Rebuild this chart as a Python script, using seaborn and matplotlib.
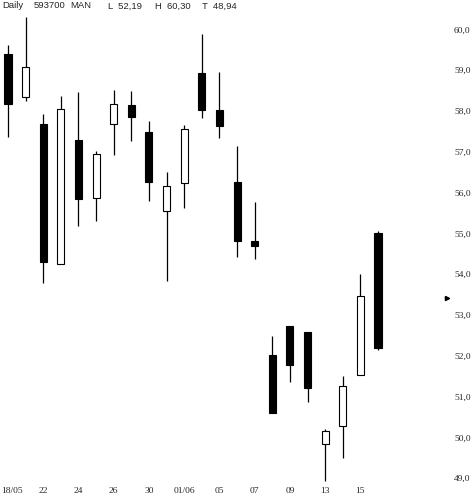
# Daily candlestick chart for MAN (593700), May/June 2000.

import seaborn as sns
import pandas as pd
import matplotlib.pyplot as plt
from matplotlib.transforms import ScaledTranslation

sns.set_theme(style="white")
plt.rcParams['font.family'] = ['Liberation Serif', 'DejaVu Sans']

# Trading days, one candle each.
dates = ["18/05", "19", "22", "23", "24", "25", "26", "29", "30", "31", "01/06",
         "02", "05", "06", "07", "08", "09", "12", "13", "14", "15", "16"]

opens = [59.39, 58.35, 57.68, 54.24, 57.29, 55.87, 57.67, 58.14, 57.48, 55.56, 56.23,
         58.93, 58.02, 56.26, 54.82, 52.02, 52.73, 52.58, 49.83, 50.27, 51.54, 55.02]
highs = [59.62, 60.30, 57.92, 58.37, 58.46, 57.02, 58.51, 58.49, 57.75, 56.50, 57.65,
         59.88, 58.95, 57.14, 55.77, 52.48, 52.73, 52.58, 50.20, 51.51, 54.00, 55.05]
lows = [57.36, 58.25, 53.79, 54.24, 55.19, 55.31, 56.91, 57.27, 55.80, 53.84, 55.63,
        57.83, 57.34, 54.43, 54.38, 50.59, 51.36, 50.87, 48.94, 49.50, 51.54, 52.15]
closes = [58.18, 59.07, 54.30, 58.06, 55.85, 56.94, 58.16, 57.86, 56.26, 56.15, 57.55,
          58.03, 57.64, 54.82, 54.70, 50.59, 51.78, 51.22, 50.15, 51.27, 53.46, 52.19]

price_ticks = [49, 50, 51, 52, 53, 54, 55, 56, 57, 58, 59, 60]

# Little arrow on the right edge.
marker_price = 53.42

header = ["Daily", "593700", "MAN", "L  52,19", "H  60,30", "T  48,94"]

df = pd.DataFrame({"date": dates, "open": opens, "high": highs, "low": lows, "close": closes})
df["pos"] = range(len(df))
df["bottom"] = df[["open", "close"]].min(axis=1)
df["height"] = (df["close"] - df["open"]).abs()
df["up"] = df["close"] >= df["open"]

fig = plt.figure(figsize=(4.77, 4.99), dpi=100)
ax = fig.add_axes([0, 0.032, 0.9476, 0.968])

# Wicks first, bodies on top.
ax.vlines(df["pos"], df["low"], df["high"], color="black", linewidth=0.9, zorder=1)
ax.bar(df["pos"], df["height"], bottom=df["bottom"], width=0.4,
       color=["white" if u else "black" for u in df["up"]],
       edgecolor="black", linewidth=0.8, zorder=2)

ax.plot([24.94], [marker_price], marker=">", color="black", markersize=3, clip_on=False)

ax.set_xlim(-0.454, 25.2)
ax.set_ylim(48.88, 60.72)

ax.set_xticks(df["pos"][::2])
ax.set_xticklabels(df["date"][::2], fontsize=6.8)
ax.yaxis.tick_right()
ax.set_yticks(price_ticks)
ax.set_yticklabels([f"{p:.1f}".replace(".", ",") for p in price_ticks], fontsize=6.8)
ax.tick_params(axis="both", length=0)
ax.tick_params(axis="y", pad=1.5)
ax.tick_params(axis="x", pad=3)
ax.grid(False)
sns.despine(ax=ax, left=True, bottom=True, right=True, top=True)

# The first date label sits flush with the left edge.
first = ax.get_xticklabels()[0]
first.set_transform(first.get_transform() + ScaledTranslation(3.5 / 100, 0, fig.dpi_scale_trans))

xs = [2, 34, 70, 108, 155, 202]
for x, t in zip(xs, header):
    fig.text(x / 477, 1 - 6 / 499, t, fontsize=6.8, family=["Liberation Sans", "DejaVu Sans"],
             va="center", ha="left")

plt.savefig("out.png", dpi=100)
